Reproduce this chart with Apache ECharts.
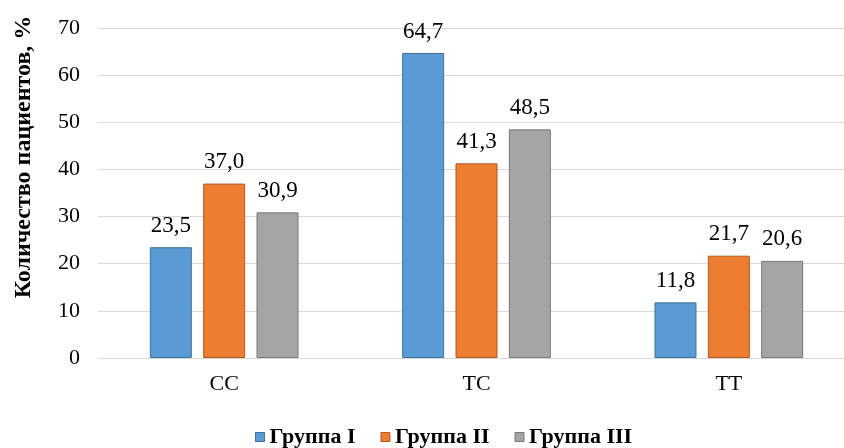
<!DOCTYPE html>
<html><head><meta charset="utf-8">
<script src="https://cdn.jsdelivr.net/npm/echarts@6/dist/echarts.min.js"></script>
<style>html,body{margin:0;padding:0;background:#fff}#c{width:844px;height:448px}</style>
</head><body><div id="c"></div>
<script>
const categories = ['CC', 'TC', 'TT'];
const groupNames = ['Группа I', 'Группа II', 'Группа III'];
const group1 = [23.5, 64.7, 11.8];
const group2 = [37.0, 41.3, 21.7];
const group3 = [30.9, 48.5, 20.6];
const yTicks = [0, 10, 20, 30, 40, 50, 60, 70];

const font = 'Liberation Serif';
const colors = ['#5B9BD5', '#ED7D31', '#A5A5A5'];
const borders = ['#41719C', '#AE5A21', '#787878'];
const chart = echarts.init(document.getElementById('c'), null, {renderer: 'canvas'});
function mk(name, data, i) {
  return {
    name: name, type: 'bar', data: data, barWidth: 42, barGap: '27%',
    itemStyle: {color: colors[i], borderColor: borders[i], borderWidth: 1},
    label: {show: true, position: 'top', distance: 10, fontFamily: font, fontSize: 23, color: '#000',
      formatter: p => p.value.toFixed(1).replace('.', ',')}
  };
}
chart.setOption({
  animation: false,
  grid: {left: 98, top: 28, width: 757, height: 330, containLabel: false, outerBoundsMode: 'none'},
  legend: {
    top: 426, left: 255, padding: 0, itemWidth: 9, itemHeight: 9, itemGap: 25,
    icon: 'rect',
    textStyle: {fontFamily: font, fontSize: 22, fontWeight: 'bold', color: '#000'},
    data: groupNames.map((n, i) => ({name: n, itemStyle: {color: colors[i], borderColor: borders[i], borderWidth: 1}}))
  },
  xAxis: {
    type: 'category', data: categories,
    axisLine: {lineStyle: {color: '#D9D9D9', width: 1}},
    axisTick: {show: false},
    axisLabel: {fontFamily: font, fontSize: 22, color: '#000', margin: 15}
  },
  yAxis: {
    type: 'value', min: yTicks[0], max: yTicks[yTicks.length - 1], interval: 10,
    axisLine: {show: false}, axisTick: {show: false},
    splitLine: {lineStyle: {color: '#D9D9D9', width: 1}},
    axisLabel: {fontFamily: font, fontSize: 22, color: '#000', margin: 18}
  },
  graphic: [{
    type: 'text', x: 24, y: 157, rotation: Math.PI / 2,
    style: {text: 'Количество пациентов, %', font: 'bold 24px "Liberation Serif"', fill: '#000',
      textAlign: 'center', textVerticalAlign: 'middle'}
  }],
  series: [mk(groupNames[0], group1, 0), mk(groupNames[1], group2, 1), mk(groupNames[2], group3, 2)]
});
</script></body></html>
